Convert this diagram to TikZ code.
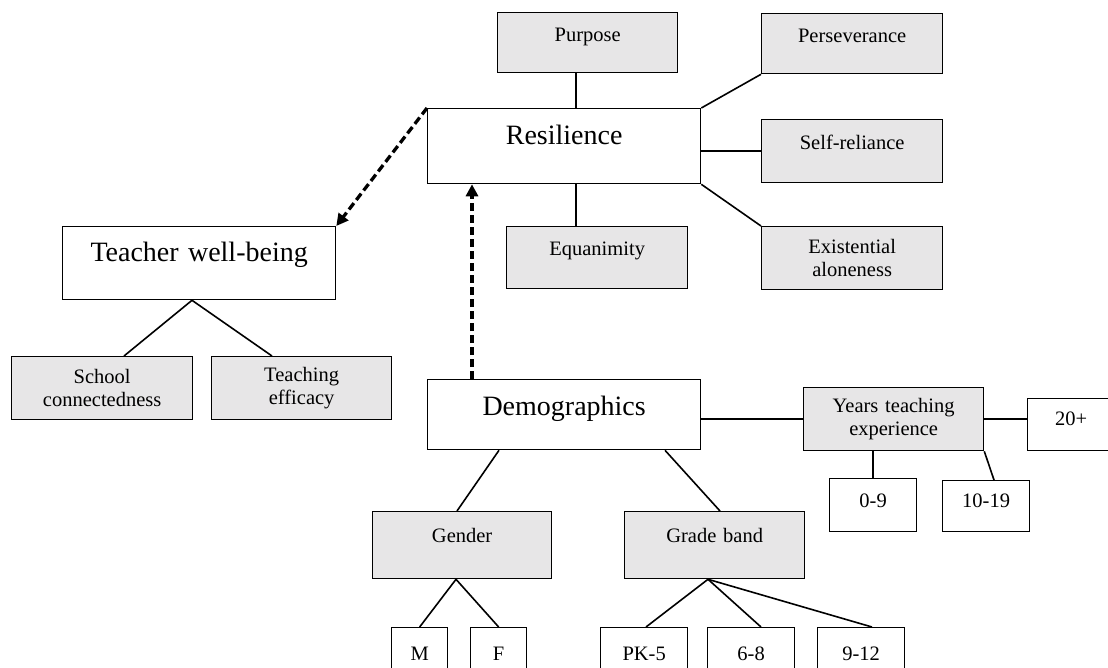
\documentclass[tikz,border=0pt]{standalone}
\usepackage{fontspec}
\setmainfont{Liberation Serif}
\usetikzlibrary{arrows.meta}
\definecolor{boxgray}{RGB}{231,230,231}
\newcommand{\smallfnt}{\fontsize{20.5}{23}\selectfont}
\newcommand{\bigfnt}{\fontsize{28}{32}\selectfont}
\tikzset{
  box/.style={draw, line width=1.3pt, inner sep=0pt, align=center, anchor=north west, font=\smallfnt},
  greybox/.style={box, fill=boxgray},
  bigbox/.style={box, font=\bigfnt},
  link/.style={line width=1.6pt},
  effect/.style={line width=3.3pt, dash pattern=on 8pt off 4pt, -{Triangle[length=12pt,width=12pt]}},
}
\begin{document}
\begin{tikzpicture}[x=1pt,y=-1pt]
    \clip (0,0) rectangle (1108,668);
    % Resilience and its facets
    \node[bigbox, text width=273pt, text height=36pt, text depth=39pt] (resil) at (427,108) {Resilience};
    \node[greybox, text width=180pt, text height=29pt, text depth=31pt] (purpose) at (497,12) {Purpose};
    \node[greybox, text width=181pt, text height=29pt, text depth=33pt] (equan) at (506,226) {Equanimity};
    \node[greybox, text width=181pt, text height=29pt, text depth=31pt] (persev) at (761,13) {Perseverance};
    \node[greybox, text width=181pt, text height=30pt, text depth=33pt] (selfrel) at (761,119) {Self-reliance};
    \node[greybox, text width=181pt, minimum height=63pt] (alone) at (761,226) {Existential\\aloneness};
    \draw[link] (purpose.south -| 576,0) -- (resil.north -| 576,0);
    \draw[link] (resil.south -| 576,0) -- (equan.north -| 576,0);
    \draw[link] (resil.north east) -- (persev.south west);
    \draw[link] (resil.east |- selfrel.west) -- (selfrel.west);
    \draw[link] (resil.south east) -- (alone.north west);
    % Teacher well-being
    \node[bigbox, text width=273pt, text height=35pt, text depth=38pt] (wellb) at (62,226) {Teacher well-being};
    \node[greybox, text width=181pt, minimum height=63pt] (school) at (11,356) {School\\connectedness};
    \node[greybox, text width=180pt, minimum height=63pt] (efficacy) at (211,356) {Teaching\\efficacy};
    \draw[link] (wellb.south -| 192,0) -- (school.north -| 124,0);
    \draw[link] (wellb.south -| 192,0) -- (efficacy.north -| 272,0);
    % Demographics
    \node[bigbox, text width=273pt, text height=36pt, text depth=34pt] (demog) at (427,379) {Demographics};
    \node[greybox, text width=180pt, minimum height=63pt] (years) at (803,387) {Years teaching\\experience};
    \node[box, text width=87pt, text height=27pt, text depth=25pt] (yrsC) at (1027,398) {20+};
    \node[box, text width=87pt, text height=29pt, text depth=24pt] (yrsA) at (829,478) {0-9};
    \node[box, text width=87pt, text height=27pt, text depth=24pt] (yrsB) at (942,480) {10-19};
    \node[greybox, text width=179pt, text height=31pt, text depth=36pt] (gender) at (372,511) {Gender};
    \node[greybox, text width=180pt, text height=31pt, text depth=36pt] (grade) at (624,511) {Grade band};
    \node[box, text width=56pt, text height=33pt, text depth=30pt] (male) at (391,627) {M};
    \node[box, text width=56pt, text height=33pt, text depth=30pt] (female) at (470,627) {F};
    \node[box, text width=87pt, text height=33pt, text depth=30pt] (gradeA) at (600,627) {PK-5};
    \node[box, text width=87pt, text height=33pt, text depth=30pt] (gradeB) at (707,627) {6-8};
    \node[box, text width=87pt, text height=33pt, text depth=30pt] (gradeC) at (817,627) {9-12};
    \draw[link] (demog.east |- years.west) -- (years.west);
    \draw[link] (years.east) -- (years.east -| yrsC.west);
    \draw[link] (years.south -| yrsA.north) -- (yrsA.north);
    \draw[link] (years.south east) -- (yrsB.north -| 994,0);
    \draw[link] (demog.south -| 499,0) -- (gender.north -| 457,0);
    \draw[link] (demog.south -| 665,0) -- (grade.north -| 720,0);
    \draw[link] (gender.south -| 456,0) -- (male.north);
    \draw[link] (gender.south -| 456,0) -- (female.north);
    \draw[link] (grade.south -| 708,0) -- (gradeA.north -| 646,0);
    \draw[link] (grade.south -| 708,0) -- (gradeB.north -| 761,0);
    \draw[link] (grade.south -| 708,0) -- (gradeC.north -| 872,0);
    % Paths between constructs
    \draw[effect] (resil.north west) -- (wellb.north east);
    \draw[effect] (demog.north -| 472,0) -- (resil.south -| 472,0);
\end{tikzpicture}
\end{document}
